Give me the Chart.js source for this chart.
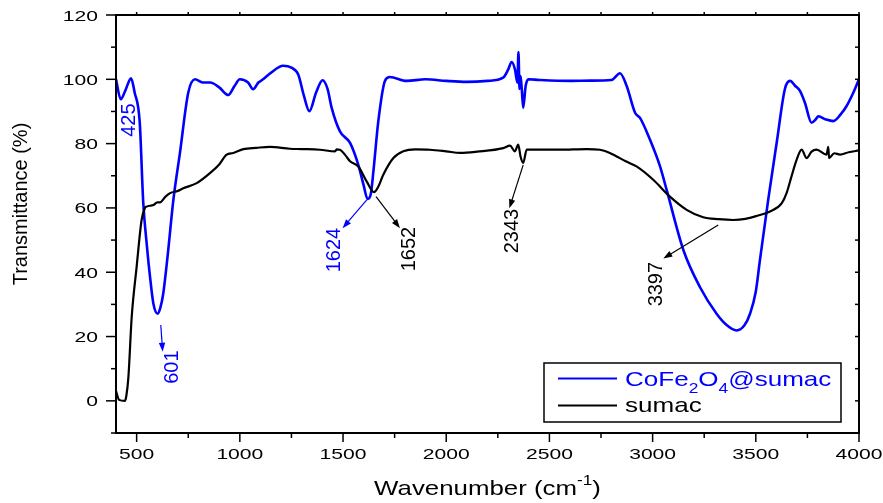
<!DOCTYPE html>
<html>
<head>
<meta charset="utf-8">
<script src="https://cdn.jsdelivr.net/npm/chart.js@4.4.1/dist/chart.umd.min.js"></script>
<style>
  html, body { margin: 0; padding: 0; background: #fff; }
  canvas { display: block; }
</style>
</head>
<body>
<canvas id="grafico" width="883" height="503"></canvas>
<script>
// FTIR: CoFe2O4@sumac (azul) y sumac (negro)
const ondaCompuesto = [400, 423, 445, 473, 490, 515, 532, 550, 565, 581, 602, 615, 629, 650, 678, 710, 750, 783, 820, 856,
  900, 944, 975, 1000, 1040, 1064, 1090, 1113, 1150, 1210, 1250, 1283, 1310, 1337, 1370, 1401, 1425, 1445, 1485, 1534,
  1574, 1600, 1619, 1635, 1647, 1671, 1703, 1727, 1808, 1900, 2000, 2100, 2200, 2276, 2300, 2317, 2333, 2345, 2350, 2355,
  2360, 2366, 2373, 2385, 2398, 2450, 2600, 2700, 2801, 2842, 2874, 2915, 2939, 2987, 3036, 3068, 3149, 3229, 3310, 3360,
  3407, 3445, 3472, 3500, 3520, 3560, 3601, 3641, 3666, 3690, 3714, 3738, 3770, 3790, 3803, 3840, 3876, 3910, 3940, 3970, 4000];
const transCompuesto = [100, 93.8, 96.5, 100.3, 96, 86.6, 61.7, 48, 38.5, 30.3, 27.1, 29, 33.4, 45, 62.5, 77.2, 95.8, 100, 99, 99,
  97.5, 95.1, 98, 100, 99, 96.9, 99, 100, 102, 104.2, 103.6, 101.5, 95, 90.1, 96, 99.7, 97, 91.1, 83.8, 80.2,
  73.4, 67, 62.8, 64.5, 71.3, 87, 99.5, 100.7, 99.5, 100, 99.5, 99.2, 99.5, 100.5, 103, 105.4, 103.1, 99, 108.5, 97,
  101, 97, 91.1, 98, 100, 99.8, 99.5, 99.6, 99.8, 101.9, 98, 89.6, 88, 81.25, 72.9, 65.6, 46.9, 35.4, 27.1, 23.5,
  21.9, 23.5, 27.1, 34, 43.75, 62.5, 80.2, 97, 99.5, 98, 96.4, 92.7, 86.5, 87.5, 88.5, 87.5, 87, 89, 91.7, 95.5, 100];

const ondaSumac = [400, 415, 443, 450, 460, 476, 500, 524, 540, 548, 581, 600, 613, 640, 662, 700, 726, 791, 855, 900,
  936, 968, 1017, 1080, 1146, 1243, 1300, 1388, 1461, 1470, 1485, 1510, 1534, 1574, 1615, 1650, 1670, 1695, 1744, 1792,
  1850, 1921, 2000, 2067, 2150, 2276, 2309, 2333, 2349, 2360, 2373, 2390, 2450, 2551, 2680, 2745, 2793, 2826, 2870, 2922,
  3003, 3084, 3165, 3245, 3320, 3391, 3450, 3504, 3569, 3626, 3649, 3673, 3698, 3722, 3746, 3770, 3794, 3843, 3851, 3855,
  3880, 3908, 3950, 4000];
const transSumac = [3, 0.3, 0, 1.5, 7.3, 26, 41.7, 56.25, 60, 60.4, 60.9, 61.7, 61.7, 63.5, 64.6, 65.3, 66.1, 67.7, 70.8, 73.5,
  76.6, 77.1, 78.3, 78.7, 79, 78.4, 78.3, 78.1, 77.6, 78.2, 78.1, 76.5, 74.5, 72.9, 68.2, 64.9, 66.5, 70.3, 75.5, 77.6,
  78.2, 78.1, 77.6, 77.1, 77.5, 78.6, 79.4, 77.6, 79.7, 76, 74, 78.1, 78.1, 78.1, 78.3, 78.1, 77.1, 76, 74.5, 72.9,
  68.75, 63.5, 59.4, 57.1, 56.5, 56.25, 56.6, 57.5, 58.9, 61.5, 64.6, 69.8, 75, 78.1, 75.5, 77.5, 78.1, 76.6, 79, 75.5,
  77, 76.6, 77.3, 77.9];

const ticksX = [500, 1000, 1500, 2000, 2500, 3000, 3500, 4000];
const ticksY = [0, 20, 40, 60, 80, 100, 120];

// etiquetas de picos: texto, color, centro del texto y flecha (en unidades de los ejes)
const picos = [
  { texto: "425", color: "#0000ff", x: 463, y: 87.3, flecha: null },
  { texto: "601", color: "#0000ff", x: 676, y: 10.5, flecha: [617, 23.6, 626, 15.3] },
  { texto: "1624", color: "#0000ff", x: 1461, y: 46.9, flecha: [1615, 62.5, 1498, 53.7] },
  { texto: "1652", color: "#000000", x: 1820, y: 47.2, flecha: [1660, 63.5, 1776, 53.7] },
  { texto: "2343", color: "#000000", x: 2321, y: 52.8, flecha: [2373, 73.4, 2306, 59.9] },
  { texto: "3397", color: "#000000", x: 3020, y: 36.3, flecha: [3318, 54.7, 3052, 44.3] }
];

const FUENTE = '"Liberation Sans", Arial, sans-serif';

// texto estirado en horizontal (como en la figura original)
function textoAncho(ctx, texto, x, y, escala, align) {
  const w = ctx.measureText(texto).width * escala;
  let x0 = x;
  if (align === "center") x0 = x - w / 2;
  else if (align === "right") x0 = x - w;
  ctx.save();
  ctx.translate(x0, y);
  ctx.scale(escala, 1);
  ctx.textAlign = "left";
  ctx.fillText(texto, 0, 0);
  ctx.restore();
  return w;
}

// dibuja varias piezas seguidas (subindices / superindices)
function textoCompuesto(ctx, piezas, x, y, escala, align) {
  let total = 0;
  piezas.forEach(p => { ctx.font = p.size + "px " + FUENTE; total += ctx.measureText(p.t).width * escala; });
  let cx = align === "center" ? x - total / 2 : x;
  piezas.forEach(p => {
    ctx.font = p.size + "px " + FUENTE;
    cx += textoAncho(ctx, p.t, cx, y + (p.dy || 0), escala, "left");
  });
}

function flecha(ctx, x1, y1, x2, y2, color) {
  const ang = Math.atan2(y2 - y1, x2 - x1);
  const largo = 9, ancho = 3.2;
  ctx.strokeStyle = color;
  ctx.fillStyle = color;
  ctx.lineWidth = 1.2;
  ctx.beginPath();
  ctx.moveTo(x1, y1);
  ctx.lineTo(x2 - largo * 0.8 * Math.cos(ang), y2 - largo * 0.8 * Math.sin(ang));
  ctx.stroke();
  ctx.beginPath();
  ctx.moveTo(x2, y2);
  ctx.lineTo(x2 - largo * Math.cos(ang) + ancho * Math.sin(ang), y2 - largo * Math.sin(ang) - ancho * Math.cos(ang));
  ctx.lineTo(x2 - largo * Math.cos(ang) - ancho * Math.sin(ang), y2 - largo * Math.sin(ang) + ancho * Math.cos(ang));
  ctx.closePath();
  ctx.fill();
}

function linea(ctx, x1, y1, x2, y2) {
  ctx.beginPath();
  ctx.moveTo(x1, y1);
  ctx.lineTo(x2, y2);
  ctx.stroke();
}

const marco = {
  id: "marco",
  afterDatasetsDraw(chart) {
    const { ctx, chartArea: a, scales: { x, y } } = chart;
    ctx.save();
    ctx.strokeStyle = "#000";
    ctx.fillStyle = "#000";

    // ticks del eje x (mayores cada 500, menores cada 250)
    ctx.lineWidth = 1.5;
    for (let v = 500; v <= 4000; v += 250) {
      const p = x.getPixelForValue(v);
      const mayor = ticksX.includes(v);
      linea(ctx, p, a.bottom, p, a.bottom + (mayor ? 9 : 5));
      linea(ctx, p, a.top, p, a.top - 3);
    }
    // ticks del eje y (mayores cada 20, menores cada 10)
    for (let v = -10; v <= 120; v += 10) {
      const p = y.getPixelForValue(v);
      const mayor = ticksY.includes(v);
      linea(ctx, a.left, p, a.left - (mayor ? 10 : 5), p);
      linea(ctx, a.right, p, a.right - 4, p);
    }

    // marco
    ctx.lineWidth = 2;
    ctx.strokeRect(a.left, a.top, a.right - a.left, a.bottom - a.top);

    // etiquetas de ticks
    ctx.font = "15.5px " + FUENTE;
    ctx.textBaseline = "alphabetic";
    ticksX.forEach(v => textoAncho(ctx, String(v), x.getPixelForValue(v), a.bottom + 26, 1.36, "center"));
    ticksY.forEach(v => textoAncho(ctx, String(v), a.left - 18, y.getPixelForValue(v) + 5.5, 1.36, "right"));

    // titulos de ejes
    textoCompuesto(ctx, [
      { t: "Wavenumber (cm", size: 21 },
      { t: "-1", size: 14, dy: -10 },
      { t: ")", size: 21 }
    ], (a.left + a.right) / 2, a.bottom + 62, 1.23, "center");

    ctx.save();
    ctx.translate(21, 204);
    ctx.rotate(-Math.PI / 2);
    ctx.font = "20px " + FUENTE;
    ctx.textAlign = "center";
    ctx.textBaseline = "middle";
    ctx.fillText("Transmittance (%)", 0, 0);
    ctx.restore();

    // etiquetas de picos con flechas
    picos.forEach(pk => {
      if (pk.flecha) {
        const f = pk.flecha;
        flecha(ctx, x.getPixelForValue(f[0]), y.getPixelForValue(f[1]),
          x.getPixelForValue(f[2]), y.getPixelForValue(f[3]), pk.color);
      }
      ctx.save();
      ctx.translate(x.getPixelForValue(pk.x), y.getPixelForValue(pk.y));
      ctx.rotate(-Math.PI / 2);
      ctx.font = "20px " + FUENTE;
      ctx.fillStyle = pk.color;
      ctx.textAlign = "center";
      ctx.textBaseline = "middle";
      ctx.fillText(pk.texto, 0, 0);
      ctx.restore();
    });

    // leyenda
    const lx = a.right - 315, ly = a.bottom - 70;
    ctx.fillStyle = "#fff";
    ctx.fillRect(lx, ly, 297, 59);
    ctx.strokeStyle = "#000";
    ctx.lineWidth = 1.5;
    ctx.strokeRect(lx, ly, 297, 59);

    chart.data.datasets.forEach((ds, i) => {
      const yy = ly + 15.5 + i * 27;
      ctx.strokeStyle = ds.borderColor;
      ctx.lineWidth = 2.2;
      linea(ctx, lx + 14, yy, lx + 73, yy);
      ctx.fillStyle = ds.borderColor;
      if (i === 0) {
        textoCompuesto(ctx, [
          { t: "CoFe", size: 21 },
          { t: "2", size: 14, dy: 7 },
          { t: "O", size: 21 },
          { t: "4", size: 14, dy: 7 },
          { t: "@sumac", size: 21 }
        ], lx + 81, ly + 23, 1.24, "left");
      } else {
        ctx.font = "21px " + FUENTE;
        textoAncho(ctx, ds.label, lx + 81, ly + 49, 1.24, "left");
      }
    });

    ctx.restore();
  }
};

const grafico = new Chart(document.getElementById("grafico"), {
  type: "line",
  data: {
    datasets: [
      {
        label: "CoFe2O4@sumac",
        data: ondaCompuesto.map((v, i) => ({ x: v, y: transCompuesto[i] })),
        borderColor: "#0000ff",
        borderWidth: 2.6,
        pointRadius: 0,
        cubicInterpolationMode: "monotone",
        order: 1
      },
      {
        label: "sumac",
        data: ondaSumac.map((v, i) => ({ x: v, y: transSumac[i] })),
        borderColor: "#000000",
        borderWidth: 2.2,
        pointRadius: 0,
        cubicInterpolationMode: "monotone",
        order: 0
      }
    ]
  },
  options: {
    responsive: false,
    animation: false,
    devicePixelRatio: 1,
    layout: { padding: { left: 116, right: 24, top: 15, bottom: 70 } },
    scales: {
      x: { type: "linear", min: 400, max: 4000, display: false },
      y: { min: -10, max: 120, display: false }
    },
    plugins: {
      legend: { display: false },
      tooltip: { enabled: false }
    }
  },
  plugins: [marco]
});
</script>
</body>
</html>
